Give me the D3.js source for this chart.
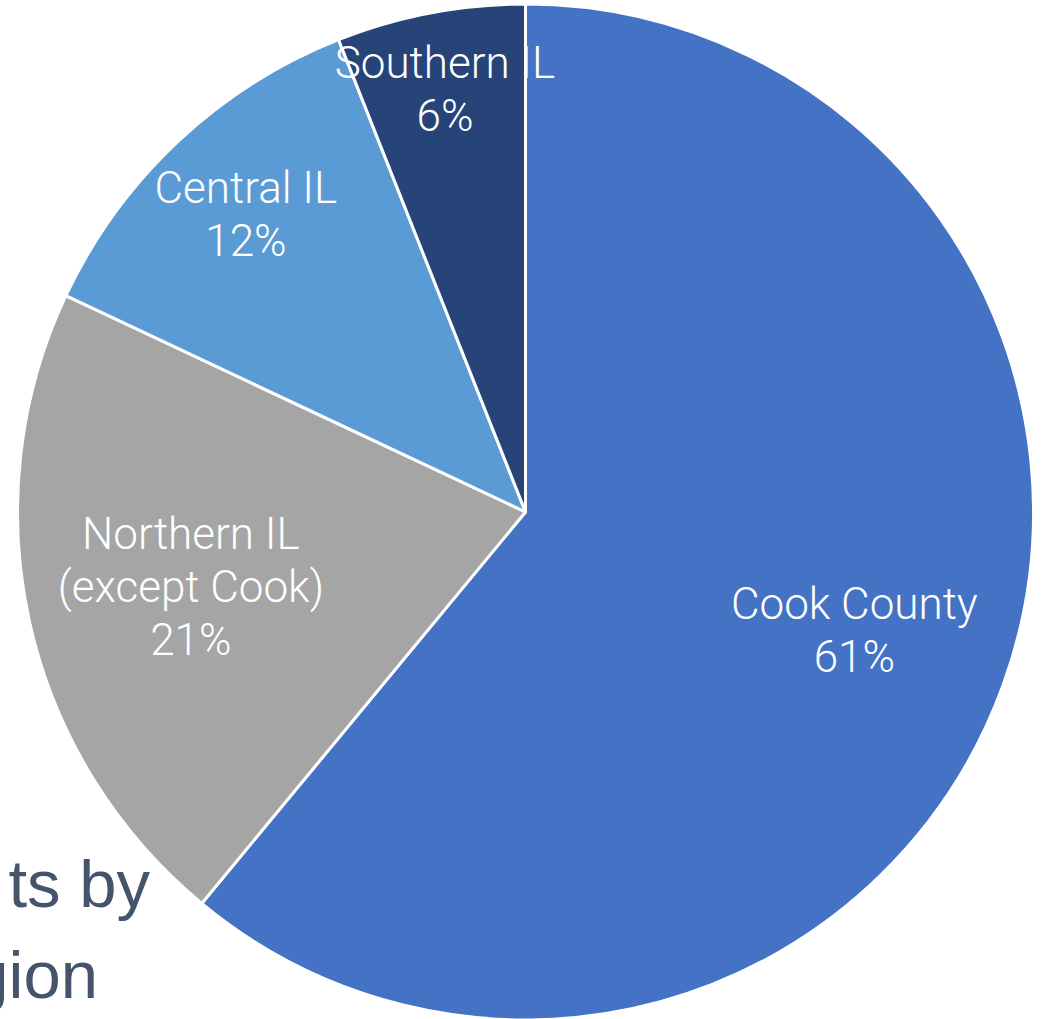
<!DOCTYPE html>
<html>
<head>
<meta charset="utf-8">
<script src="https://cdn.jsdelivr.net/npm/d3@7"></script>
<style>
  html, body { margin: 0; padding: 0; background: #ffffff; }
  svg { display: block; }
</style>
</head>
<body>
<svg id="chart" width="1045" height="1019"></svg>
<script>
// Regional share of participants
const regions = ["Cook County", "Northern IL\n(except Cook)", "Central IL", "Southern IL"];
const shares = [61, 21, 12, 6];
const colors = ["#4472C4", "#A5A5A5", "#5B9BD5", "#264478"];

// Layout
const width = 1045, height = 1019;
const cx = 525.5, cy = 512, radius = 508;
// Radial placement of each label, as a fraction of the radius
const labelRadius = [0.688, 0.675, 0.804, 0.846];

const svg = d3.select("#chart");

// Title text sitting behind the pie
const title = svg.append("g")
  .attr("fill", "#44546A")
  .attr("font-family", "'Liberation Sans', Arial, sans-serif")
  .attr("font-size", 67);
title.append("text").attr("x", 150).attr("y", 907).attr("text-anchor", "end").text("ts by");
title.append("text").attr("x", 98).attr("y", 998).attr("text-anchor", "end").text("gion");

const pie = d3.pie().sort(null).value(d => d)
  .startAngle(0).endAngle(2 * Math.PI);
const arcs = pie(shares);

const arc = d3.arc().innerRadius(0).outerRadius(radius);

const g = svg.append("g").attr("transform", `translate(${cx},${cy})`);

g.selectAll("path.slice")
  .data(arcs)
  .join("path")
  .attr("class", "slice")
  .attr("d", arc)
  .attr("fill", (d, i) => colors[i])
  .attr("stroke", "#ffffff")
  .attr("stroke-width", 3)
  .attr("stroke-linejoin", "round");

// Data labels: category name followed by percentage
const lineHeight = 53;
const labels = g.selectAll("text.label")
  .data(arcs)
  .join("text")
  .attr("class", "label")
  .attr("fill", "#ffffff")
  .attr("font-family", "Roboto, 'Open Sans', sans-serif")
  .attr("font-weight", 300)
  .attr("font-size", 44)
  .attr("text-anchor", "middle")
  .attr("transform", (d, i) => {
    const a = (d.startAngle + d.endAngle) / 2;
    const r = radius * labelRadius[i];
    return `translate(${r * Math.sin(a)},${-r * Math.cos(a)})`;
  });

labels.each(function(d, i) {
  const lines = regions[i].split("\n").concat([shares[i] + "%"]);
  const t = d3.select(this);
  const offset = -(lines.length - 1) * lineHeight / 2 + 15;
  lines.forEach((ln, k) => {
    t.append("tspan")
      .attr("x", 0)
      .attr("y", offset + k * lineHeight)
      .text(ln);
  });
});
</script>
</body>
</html>
